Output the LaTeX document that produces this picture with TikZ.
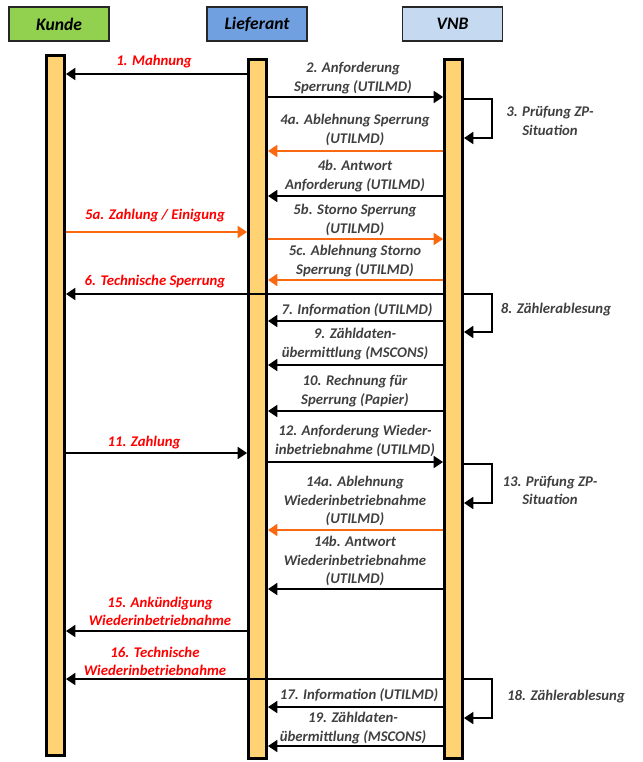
\documentclass[tikz,border=0pt]{standalone}
\usepackage{fontspec}
\setmainfont{Carlito}
\usepackage{xcolor}
\usepackage{tikz}
\usetikzlibrary{arrows.meta}

\definecolor{kundegreen}{RGB}{146,208,80}
\definecolor{lieferblue}{RGB}{112,160,224}
\definecolor{vnbblue}{RGB}{197,217,241}
\definecolor{barorange}{RGB}{255,210,115}
\definecolor{msgorange}{RGB}{250,105,15}
\definecolor{txtgray}{RGB}{64,64,64}
\definecolor{txtred}{RGB}{255,0,0}

\tikzset{
  hdr/.style={draw=black!85, line width=1.6pt, minimum width=3cm, minimum height=1.02cm,
    inner sep=0pt, font=\fontsize{15}{18}\selectfont\bfseries\itshape},
  lane/.style={draw=black, fill=barorange, line width=2.4pt, minimum width=0.54cm, inner sep=0pt},
  msg/.style={line width=2.3pt, -{Triangle[length=8pt,width=10pt]}},
  omsg/.style={msg, draw=msgorange},
  lbl/.style={text=txtgray, align=center, inner sep=0pt, font=\fontsize{12.6}{15.5}\selectfont\bfseries\itshape},
  rlbl/.style={lbl, text=txtred},
}

\begin{document}
\begin{tikzpicture}[x=0.03cm, y=-0.03cm]
        \useasboundingbox (0,0) rectangle (642,762);

        % Kopfzeile
        \node[hdr, fill=kundegreen] (kunde) at (59,24)    {Kunde};
        \node[hdr, fill=lieferblue] (lief)  at (257,24)   {Lieferant};
        \node[hdr, fill=vnbblue]    (vnb)   at (452.5,24) {VNB};

        % Lebenslinien
        \node[lane, minimum height=21.0cm]  (kbar) at (55.5,405.5) {};
        \node[lane, minimum height=20.97cm] (lbar) at (257.5,409)  {};
        \node[lane, minimum height=20.97cm] (vbar) at (453.5,409)  {};

        % Texte
        \node[rlbl] (t1)   at (154,62)  {1. Mahnung};
        \node[lbl]  (t2)   at (353,78)  {2. Anforderung\\Sperrung (UTILMD)};
        \node[lbl]  (t3)   at (550,121) {3. Prüfung ZP-\\Situation};
        \node[lbl]  (t4a)  at (355,130) {4a. Ablehnung Sperrung\\(UTILMD)};
        \node[lbl]  (t4b)  at (355,176) {4b. Antwort\\Anforderung (UTILMD)};
        \node[rlbl] (t5a)  at (155,216) {5a. Zahlung / Einigung};
        \node[lbl]  (t5b)  at (355,220) {5b. Storno Sperrung\\(UTILMD)};
        \node[lbl]  (t5c)  at (355,261) {5c. Ablehnung Storno\\Sperrung (UTILMD)};
        \node[rlbl] (t6)   at (155,282) {6. Technische Sperrung};
        \node[lbl]  (t7)   at (357,310) {7. Information (UTILMD)};
        \node[lbl]  (t8)   at (556,310) {8. Zählerablesung};
        \node[lbl]  (t9)   at (355,344) {9. Zähldaten-\\übermittlung (MSCONS)};
        \node[lbl]  (t10)  at (355,391) {10. Rechnung für\\Sperrung (Papier)};
        \node[rlbl] (t11)  at (144,443) {11. Zahlung};
        \node[lbl]  (t12)  at (355,441) {12. Anforderung Wieder-\\inbetriebnahme (UTILMD)};
        \node[lbl]  (t13)  at (550,490) {13. Prüfung ZP-\\Situation};
        \node[lbl]  (t14a) at (355,501) {14a. Ablehnung\\Wiederinbetriebnahme\\(UTILMD)};
        \node[lbl]  (t14b) at (355,561) {14b. Antwort\\Wiederinbetriebnahme\\(UTILMD)};
        \node[rlbl] (t15)  at (160,611) {15. Ankündigung\\Wiederinbetriebnahme};
        \node[rlbl] (t16)  at (155,661) {16. Technische\\Wiederinbetriebnahme};
        \node[lbl]  (t17)  at (359,695) {17. Information (UTILMD)};
        \node[lbl]  (t18)  at (566,697) {18. Zählerablesung};
        \node[lbl]  (t19)  at (353,728) {19. Zähldaten-\\übermittlung (MSCONS)};

        % Nachrichten
        \draw[msg]  (lbar.west |- 0,74)  -- (kbar.east |- 0,74);
        \draw[msg]  (lbar.east |- 0,97)  -- (vbar.west |- 0,97);
        \draw[msg]  (vbar.east |- 0,99)  -- ++(28,0) |- (vbar.east |- 0,138);
        \draw[omsg] (vbar.west |- 0,151) -- (lbar.east |- 0,151);
        \draw[msg]  (vbar.west |- 0,196) -- (lbar.east |- 0,196);
        \draw[omsg] (kbar.east |- 0,232) -- (lbar.west |- 0,232);
        \draw[omsg] (lbar.east |- 0,239) -- (vbar.west |- 0,239);
        \draw[omsg] (vbar.west |- 0,280) -- (lbar.east |- 0,280);
        \draw[msg]  (vbar.west |- 0,294) -- (kbar.east |- 0,294);
        \draw[msg]  (vbar.east |- 0,294) -- ++(28,0) |- (vbar.east |- 0,332);
        \draw[msg]  (vbar.west |- 0,321) -- (lbar.east |- 0,321);
        \draw[msg]  (vbar.west |- 0,365) -- (lbar.east |- 0,365);
        \draw[msg]  (vbar.west |- 0,411) -- (lbar.east |- 0,411);
        \draw[msg]  (kbar.east |- 0,453) -- (lbar.west |- 0,453);
        \draw[msg]  (lbar.east |- 0,462) -- (vbar.west |- 0,462);
        \draw[msg]  (vbar.east |- 0,464) -- ++(28,0) |- (vbar.east |- 0,503);
        \draw[omsg] (vbar.west |- 0,530) -- (lbar.east |- 0,530);
        \draw[msg]  (vbar.west |- 0,589) -- (lbar.east |- 0,589);
        \draw[msg]  (lbar.west |- 0,631) -- (kbar.east |- 0,631);
        \draw[msg]  (vbar.west |- 0,679) -- (kbar.east |- 0,679);
        \draw[msg]  (vbar.east |- 0,679) -- ++(28,0) |- (vbar.east |- 0,718);
        \draw[msg]  (vbar.west |- 0,707) -- (lbar.east |- 0,707);
        \draw[msg]  (vbar.west |- 0,746) -- (lbar.east |- 0,746);
\end{tikzpicture}
\end{document}
